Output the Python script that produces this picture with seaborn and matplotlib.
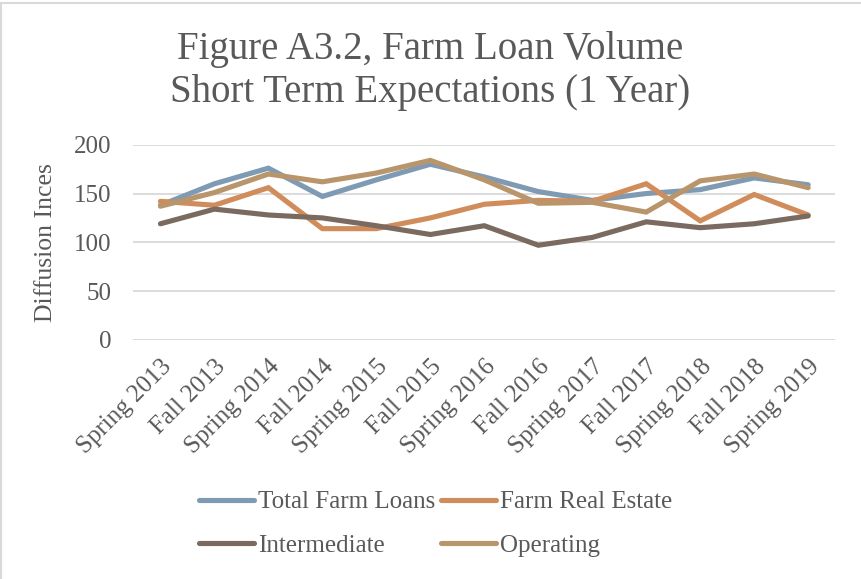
import numpy as np
import pandas as pd
import matplotlib
matplotlib.use("Agg")
import matplotlib.pyplot as plt
from matplotlib.patches import Rectangle
import seaborn as sns

# ---------------------------------------------------------------------------
# Data
# ---------------------------------------------------------------------------
periods = ['Spring 2013', 'Fall 2013', 'Spring 2014', 'Fall 2014',
           'Spring 2015', 'Fall 2015', 'Spring 2016', 'Fall 2016',
           'Spring 2017', 'Fall 2017', 'Spring 2018', 'Fall 2018',
           'Spring 2019']

total_farm_loans = [138, 160, 176, 147, 164, 180, 167, 152, 143, 150, 154, 166, 159]
farm_real_estate = [142, 138, 156, 114, 114, 125, 139, 143, 142, 160, 122, 149, 128]
intermediate = [119, 134, 128, 125, 117, 108, 117, 97, 105, 121, 115, 119, 127]
operating = [137, 151, 170, 162, 171, 184, 164, 140, 141, 131, 163, 170, 156]

series_names = ['Total Farm Loans', 'Farm Real Estate', 'Intermediate', 'Operating']
series_colors = ['#7f9bb4', '#d08c5b', '#7a6a60', '#b9956c']

yticks = [0, 50, 100, 150, 200]

df = pd.DataFrame({
    'period': np.tile(np.arange(len(periods)), 4),
    'value': total_farm_loans + farm_real_estate + intermediate + operating,
    'series': np.repeat(series_names, len(periods)),
})

# ---------------------------------------------------------------------------
# Plot
# ---------------------------------------------------------------------------
sns.set_style('white')
plt.rcParams['font.family'] = ['Liberation Serif', 'DejaVu Serif']
text_color = '#595959'
grid_color = '#d9d9d9'

fig = plt.figure(figsize=(8.61, 5.79), dpi=100)
ax = fig.add_axes([0.155, 0.413, 0.815, 0.337])

sns.lineplot(data=df, x='period', y='value', hue='series',
             hue_order=series_names, palette=series_colors,
             linewidth=3.7, ax=ax, legend=False)
for line in ax.lines:
    line.set_solid_capstyle('round')
    line.set_solid_joinstyle('miter')

ax.set_xlim(-0.5, len(periods) - 0.5)
ax.set_ylim(0, 200)
ax.set_yticks(yticks)
ax.set_xticks(range(len(periods)))
ax.set_xticklabels(periods, rotation=45, ha='right', rotation_mode='anchor')
ax.tick_params(axis='both', labelsize=18, colors=text_color, length=0)
ax.tick_params(axis='x', pad=11)
ax.tick_params(axis='y', pad=16)
ax.yaxis.grid(True, color=grid_color, linewidth=1.3)
ax.set_axisbelow(True)
for s in ax.spines.values():
    s.set_visible(False)

ax.set_xlabel('')
ax.set_ylabel('Diffusion Inces', fontsize=18.5, color=text_color, labelpad=12)

fig.text(0.5, 0.877, 'Figure A3.2, Farm Loan Volume\nShort Term Expectations (1 Year)',
         ha='center', va='center', fontsize=28, color=text_color,
         linespacing=1.2)

# legend laid out row by row like the original
handles = [plt.Line2D([], [], color=c, linewidth=3.7, solid_capstyle='round')
           for c in series_colors]
order = [0, 2, 1, 3]
leg = fig.legend([handles[i] for i in order], [series_names[i] for i in order],
                 ncol=2, loc='center', frameon=False, fontsize=18,
                 labelcolor=text_color, handlelength=2.2, handletextpad=0.15,
                 columnspacing=0.25, labelspacing=0.85)
leg.set_bbox_to_anchor((0.506, 0.095), transform=fig.transFigure)

# chart area border (only top and left edges fall inside the image)
fig.patches.append(Rectangle((0.0015, -0.05), 1.1, 1.045, transform=fig.transFigure,
                             fill=False, edgecolor=grid_color, linewidth=1.5))

fig.savefig('out.png', dpi=100)
